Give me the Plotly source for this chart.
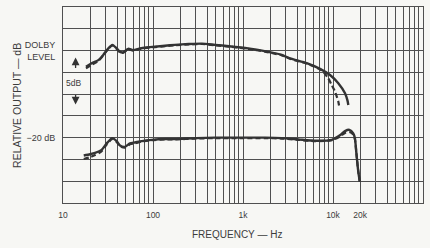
import plotly.graph_objects as go
import math

# ---- data ----
f_up = [18, 20.8, 24.7, 28, 31.9, 35.3, 39.5, 43, 46.8, 53, 60, 72, 85, 105, 136, 175, 250, 350,
        490, 700, 1140, 1800, 2700, 3330, 5100, 7170, 9270, 11450, 13600, 14500, 14800]
db_up = [-3.7, -2.9, -2.2, -1.0, 0.5, 1.3, 0.5, -0.3, -0.4, 0.4, 0.1, 0.5, 0.7, 0.9, 1.1, 1.3, 1.5, 1.6,
         1.3, 1.0, 0.5, -0.2, -1.0, -1.8, -2.9, -4.2, -5.6, -7.5, -9.8, -11.5, -12.5]

f_up_d = [18, 20.8, 24.7, 28, 31.9, 35.3, 39.5, 43, 46.8, 53, 60, 72, 85, 105, 136, 175, 250, 350,
          490, 700, 1140, 1800, 2700, 3330, 5100, 7170, 7800, 8870, 9680, 10520, 11450, 11740]
db_up_d = [-4.1, -3.3, -2.4, -1.1, 0.4, 1.2, 0.4, -0.4, -0.5, 0.3, 0.0, 0.4, 0.6, 0.8, 1.0, 1.2, 1.4, 1.5,
           1.2, 0.9, 0.4, -0.3, -1.1, -1.9, -3.0, -4.3, -4.85, -6.4, -7.9, -9.4, -11.7, -12.9]

f_lo = [17, 20, 22.7, 26.9, 30.6, 35.3, 39.5, 43, 48.8, 55.5, 63, 75, 97, 136, 175, 300, 490, 1000,
        1760, 2690, 4100, 6300, 9700, 12050, 13600, 15200, 16800, 17500, 18200, 19000, 19830]
db_lo = [-24.1, -23.8, -23.5, -22.8, -21.3, -20.1, -20.8, -21.8, -22.1, -21.3, -21.1, -20.8, -20.5, -20.3,
         -20.3, -20.1, -20.0, -20.0, -20.0, -20.1, -20.4, -20.7, -20.5, -19.4, -18.5, -18.2, -19.0, -20.1,
         -23.6, -27.4, -30.1]

f_lo_d = [17, 20, 22.7, 26.9, 30.6, 35.3, 39.5, 43, 48.8, 55.5, 63, 75, 97, 136, 175, 300, 490, 1000,
          1760, 2690, 4100, 6300, 9700, 12050, 13600, 15200, 16800, 17500, 18200, 19000, 19830]
db_lo_d = [-24.9, -24.5, -24.0, -23.1, -21.6, -20.3, -21.0, -22.0, -22.3, -21.5, -21.3, -20.9, -20.6, -20.4,
           -20.4, -20.2, -20.1, -20.1, -20.1, -20.2, -20.5, -20.8, -20.6, -19.7, -18.9, -18.7, -19.3, -20.3,
           -23.6, -27.4, -30.1]

x_grid = [d * 10 ** k for k in range(1, 5) for d in range(1, 10)] + [100000]
x_labels = {10: "10", 100: "100", 1000: "1k", 10000: "10k", 20000: "20k"}
y_grid = list(range(-35, 11, 5))
y_labels = {0: "DOLBY<br>LEVEL", -20: "\u221220 dB"}

INK = "#333333"
GRID = "#505050"
TXT = "#3c3c3c"
BG = "#f7f7f4"
FONT = "Liberation Sans"

fig = go.Figure()
line_w = 2.4
fig.add_trace(go.Scatter(x=f_up_d, y=db_up_d, mode="lines", line=dict(color=INK, width=2.2, dash="5px,3px", shape="spline", smoothing=0.6)))
fig.add_trace(go.Scatter(x=f_up, y=db_up, mode="lines", line=dict(color=INK, width=line_w, shape="spline", smoothing=0.6)))
fig.add_trace(go.Scatter(x=f_lo_d, y=db_lo_d, mode="lines", line=dict(color=INK, width=2.2, dash="5px,3px", shape="spline", smoothing=0.6)))
fig.add_trace(go.Scatter(x=f_lo, y=db_lo, mode="lines", line=dict(color=INK, width=line_w, shape="spline", smoothing=0.6)))

fig.update_layout(
    width=430, height=248,
    margin=dict(l=63, r=7, t=7, b=45),
    paper_bgcolor=BG, plot_bgcolor=BG,
    showlegend=False,
    font=dict(family=FONT, color=TXT, size=9),
)
fig.update_xaxes(
    type="log", range=[1, 5],
    tickvals=x_grid, ticktext=[x_labels.get(v, "") for v in x_grid],
    showgrid=True, gridcolor=GRID, gridwidth=1,
    showline=True, linecolor=GRID, linewidth=1, mirror=True,
    ticks="", zeroline=False, tickangle=0, ticklabelstandoff=4,
    tickfont=dict(size=8.5, family=FONT, color=TXT),
)
fig.update_yaxes(
    range=[-35, 10],
    tickvals=y_grid, ticktext=[y_labels.get(v, "") for v in y_grid],
    showgrid=True, gridcolor=GRID, gridwidth=1,
    showline=True, linecolor=GRID, linewidth=1, mirror=True,
    ticks="", zeroline=False, ticklabelstandoff=5,
    tickfont=dict(size=9, family=FONT, color=TXT),
)

# axis titles
fig.add_annotation(text="RELATIVE OUTPUT \u2014 dB", xref="paper", yref="paper",
                   x=-0.128, y=0.5, xanchor="center", yanchor="middle",
                   textangle=-90, showarrow=False,
                   font=dict(size=10.5, family=FONT, color=TXT))
fig.add_annotation(text="FREQUENCY \u2014 Hz", xref="paper", yref="paper",
                   x=0.483, y=-0.163, xanchor="center", yanchor="middle", showarrow=False,
                   font=dict(size=10, family=FONT, color=TXT))

# 5 dB scale marker
fig.add_annotation(text="5dB", x=math.log10(13.2), y=-7.5, showarrow=False,
                   font=dict(size=8.5, family=FONT, color=TXT), bgcolor=BG)
fig.add_annotation(text="", x=math.log10(13.8), y=-1.6, ax=0, ay=12, showarrow=True,
                   arrowhead=2, arrowsize=1.2, arrowwidth=1.3, arrowcolor=INK)
fig.add_annotation(text="", x=math.log10(13.8), y=-12.4, ax=0, ay=-11, showarrow=True,
                   arrowhead=2, arrowsize=1.2, arrowwidth=1.3, arrowcolor=INK)

fig.write_html("out.html")
